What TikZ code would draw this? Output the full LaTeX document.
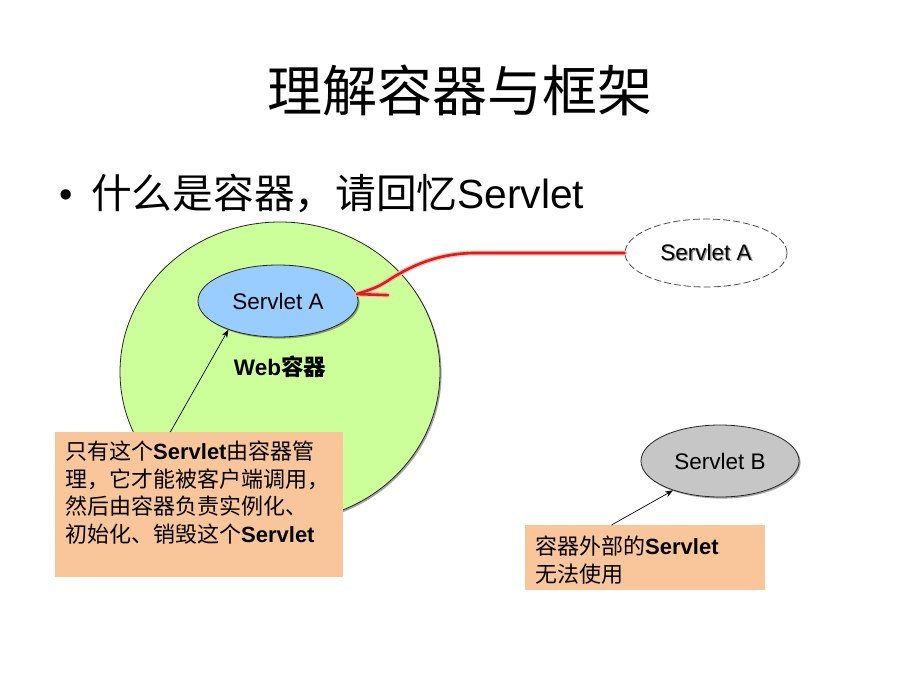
\documentclass[tikz,border=0pt]{standalone}
\usepackage{fontspec}
\setmainfont{Liberation Sans}
\newfontfamily\cjk{Noto Sans CJK SC}
\newcommand\zh[1]{{\cjk #1}}
\usetikzlibrary{shapes.geometric,arrows.meta,shadows,calc}
\definecolor{webgreen}{RGB}{204,255,153}
\definecolor{saBlue}{RGB}{153,204,255}
\definecolor{boxtan}{RGB}{249,198,155}
\definecolor{sbGray}{RGB}{198,198,198}
\definecolor{penred}{RGB}{222,30,20}
\tikzset{
  shade/.style={drop shadow={shadow xshift=1.6pt,shadow yshift=-1.6pt,fill=black,opacity=0.35}},
  oval/.style={ellipse,inner sep=0pt,draw=black!85,line width=0.8pt},
  lbl/.style={font=\fontsize{22.5}{26}\selectfont},
  note/.style={fill=boxtan,draw=none,inner sep=0pt,anchor=north west},
  notetext/.style={anchor=north west,inner sep=0pt,align=left,font=\fontsize{22}{27.5}\selectfont},
  thinarrow/.style={draw=black,line width=0.7pt,-{Stealth[length=8pt,width=6pt]}},
  redpen/.style={draw=penred,line width=2.6pt,line cap=round,line join=round,
    preaction={draw=penred!30,line width=5pt,line cap=round,line join=round}}
}
\begin{document}
\begin{tikzpicture}[x=1pt,y=-1pt]
\useasboundingbox (0,0) rectangle (920,690);
\fill[white] (0,0) rectangle (920,690);

% title and bullet
\node[anchor=base,inner sep=0pt,font=\cjk\fontsize{55}{60}\selectfont] (title) at (460,112) {理解容器与框架};
\node[anchor=base,inner sep=0pt,font=\fontsize{38}{44}\selectfont] (bul) at (66,207) {•};
\node[anchor=base west,inner sep=0pt,font=\fontsize{40.7}{46}\selectfont] (sub) at (91,208) {\zh{什么是容器，请回忆}Servlet};

% web container
\node[oval,shade,fill=webgreen,minimum width=320,minimum height=300] (web) at (280,372) {};
\node[oval,shade,fill=saBlue,minimum width=160,minimum height=72,lbl] (sa) at (278,301) {Servlet A};
\node[lbl,inner sep=0pt] (weblbl) at (280,367) {\bfseries Web\zh{容器}};

% outside servlet A (dashed)
\node[ellipse,inner sep=0pt,draw=black!70,dash pattern=on 7pt off 3pt,line width=0.8pt,
      minimum width=162,minimum height=68,lbl] (sa2) at (706,253)
      {\rlap{\hspace{1.6pt}\raisebox{-1.6pt}{\color{black!40}Servlet A}}Servlet A};

% Servlet B
\node[oval,shade,fill=sbGray,minimum width=158,minimum height=72,lbl] (sb) at (720,461) {Servlet B};

% red hand-drawn arrow
\draw[redpen] (sa2.west) -- (472,253)
  .. controls (442,254) and (418,262) .. (392,278)
  .. controls (378,287) .. (sa.5) -- ++(31,1);

% note boxes
\node[note,minimum width=288,minimum height=145] (b1) at (55,432) {};
\node[notetext] (t1) at (65,441) {\zh{只有这个}\textbf{Servlet}\zh{由容器管}\\\zh{理，它才能被客户端调用，}\\\zh{然后由容器负责实例化、}\\\zh{初始化、销毁这个}\textbf{Servlet}};

\node[note,minimum width=240,minimum height=65] (b2) at (525,525) {};
\node[notetext] (t2) at (535,536) {\zh{容器外部的}\textbf{Servlet}\\\zh{无法使用}};

% thin arrows
\draw[thinarrow] ($(b1.north west)!0.4!(b1.north east)$) -- (sa.210);
\draw[thinarrow] ($(b2.north west)!0.36!(b2.north east)$) -- (sb.212);
\end{tikzpicture}
\end{document}
